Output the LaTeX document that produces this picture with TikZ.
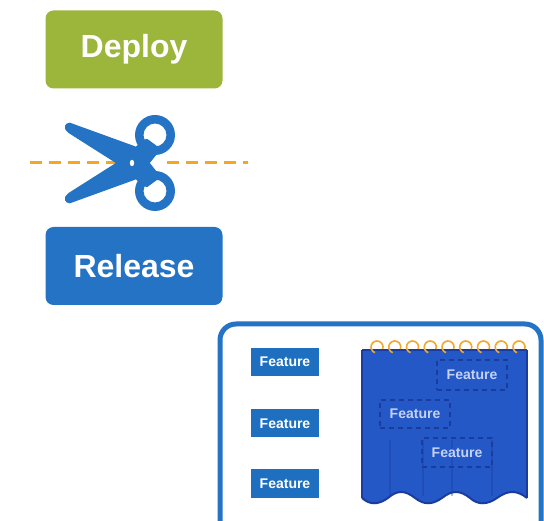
\documentclass[tikz,border=0pt]{standalone}
\usepackage{fontspec}
\setmainfont{Liberation Sans}
\definecolor{deploygreen}{HTML}{9CB53B}
\definecolor{releaseblue}{HTML}{2473C5}
\definecolor{featblue}{HTML}{1F6FC0}
\definecolor{cutorange}{HTML}{F5A623}
\definecolor{curtainblue}{HTML}{2458C6}
\definecolor{curtainedge}{HTML}{1A3C9E}
\definecolor{curtaintext}{HTML}{C4D2F6}
\definecolor{ringgold}{HTML}{F0A830}
\begin{document}
\begin{tikzpicture}[x=1pt,y=-1pt,
  stagebox/.style={rounded corners=8pt, minimum width=177pt, minimum height=78pt,
    inner sep=0pt, text=white, font=\bfseries\fontsize{32}{36}\selectfont},
  featbox/.style={fill=featblue, minimum width=68pt, minimum height=28pt,
    inner sep=0pt, text=white, font=\bfseries\fontsize{14}{16}\selectfont},
  hiddenfeat/.style={draw=curtainedge, dash pattern=on 5pt off 4pt, line width=1.5pt,
    minimum width=70pt, minimum height=29pt, inner sep=0pt, text=curtaintext,
    font=\bfseries\fontsize{14}{16}\selectfont},
  cutline/.style={draw=cutorange, line width=3pt, dash pattern=on 12pt off 7pt},
  scissor/.style={fill=releaseblue, rounded corners=2pt},
  ring/.style={draw=ringgold, line width=1.6pt}
]
\useasboundingbox (0,0) rectangle (544,521);
\clip (0,0) rectangle (544,521);

% stages
\node[stagebox, fill=deploygreen] (deploy) at (134,49.5) {Deploy};
\node[stagebox, fill=releaseblue] (release) at (134,266) {Release};

% cut line, passing behind the scissors
\coordinate (cutL) at (30,163);
\coordinate (cutLend) at (126,163);
\coordinate (cutRstart) at (167,163);
\coordinate (cutR) at (248,163);
\draw[cutline] (cutL) -- (cutLend);
\draw[cutline] (cutRstart) -- (cutR);

% upper blade running down to the lower ring
\fill[scissor] (64,127) -- (68,122) -- (137,147) -- (161,177)
  -- (146,188) -- (119,165) -- (67,132) -- cycle;
% lower blade running up to the upper ring
\fill[scissor] (64,199) -- (68,204) -- (137,179) -- (161,149)
  -- (146,138) -- (119,161) -- (67,194) -- cycle;
% finger rings
\fill[releaseblue, even odd rule] (155,135) circle (20) (155,135) circle (11.5);
\fill[releaseblue, even odd rule] (155,191) circle (20) (155,191) circle (11.5);
\fill[white] (132,163) ellipse (2.2 and 3.2);

% panel
\draw[draw=releaseblue, line width=5pt, rounded corners=16pt, fill=white]
  (220,324) rectangle (541,545);

% feature list
\node[featbox] (f1) at (285,362) {Feature};
\node[featbox] (f2) at (285,423.5) {Feature};
\node[featbox] (f3) at (285,483.5) {Feature};

% curtain
\fill[curtainblue] (362,350) -- (527,350) -- (527,498)
  .. controls (517,490) and (508,490) .. (497,498)
  .. controls (487,505) and (478,505) .. (470,498)
  .. controls (460,490) and (452,490) .. (442,498)
  .. controls (432,505) and (424,505) .. (415,498)
  .. controls (405,490) and (397,490) .. (388,498)
  .. controls (378,505) and (370,505) .. (362,498) -- cycle;
\draw[curtainedge, line width=2pt] (362,350) -- (527,350);
\draw[curtainedge, line width=1.5pt] (362,350) -- (362,498);
\draw[curtainedge, line width=1.5pt] (527,350) -- (527,498);
\draw[curtainedge, line width=2pt] (527,498)
  .. controls (517,490) and (508,490) .. (497,498)
  .. controls (487,505) and (478,505) .. (470,498)
  .. controls (460,490) and (452,490) .. (442,498)
  .. controls (432,505) and (424,505) .. (415,498)
  .. controls (405,490) and (397,490) .. (388,498)
  .. controls (378,505) and (370,505) .. (362,498);
% folds
\foreach \x in {390,423,452,492}
  \draw[curtainedge, opacity=0.35, line width=1.2pt] (\x,440) -- (\x,496);
% curtain hooks over the top hem
\foreach \i in {0,...,8}
  \draw[ring] (377+17.75*\i,347) ++(20:6) arc[start angle=20, end angle=-250, radius=6];

% features hidden behind the curtain
\node[hiddenfeat, minimum height=30pt] (c1) at (472,375) {Feature};
\node[hiddenfeat, minimum height=28pt] (c2) at (415,414) {Feature};
\node[hiddenfeat] (c3) at (457,452.5) {Feature};
\end{tikzpicture}
\end{document}
